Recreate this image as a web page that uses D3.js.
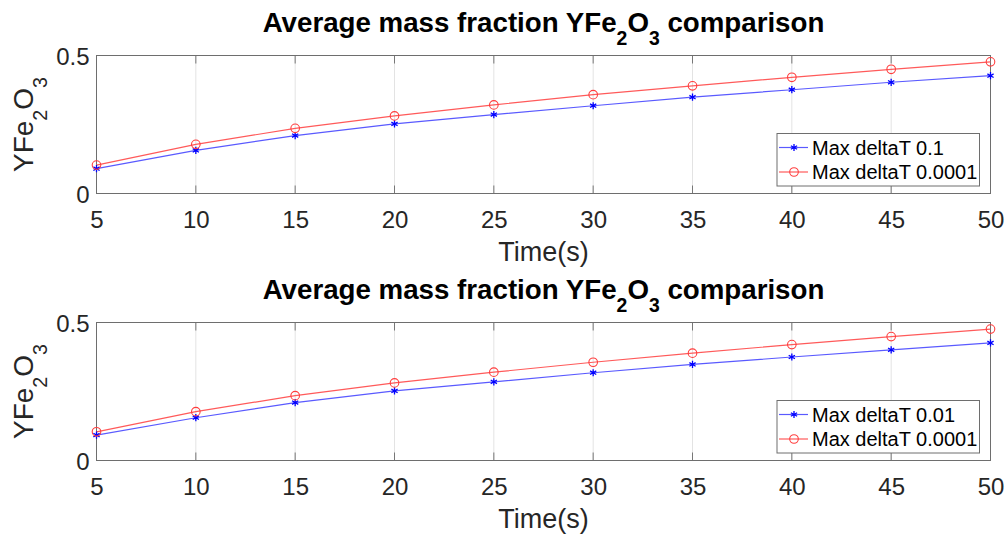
<!DOCTYPE html>
<html>
<head>
<meta charset="utf-8">
<script src="https://cdn.jsdelivr.net/npm/d3@7"></script>
<style>
  body { margin: 0; background: #fff; }
  svg { display: block; font-family: "Liberation Sans", Arial, sans-serif; }
</style>
</head>
<body>
<script>
// data
const times = [5, 10, 15, 20, 25, 30, 35, 40, 45, 50];
const yTicks = [0, 0.5];
const coarseTop = [0.090, 0.156, 0.210, 0.252, 0.286, 0.318, 0.349, 0.376, 0.403, 0.427];
const fineTop = [0.103, 0.178, 0.236, 0.281, 0.321, 0.358, 0.390, 0.421, 0.450, 0.477];
const coarseBottom = [0.092, 0.155, 0.210, 0.252, 0.285, 0.318, 0.348, 0.375, 0.401, 0.426];
const fineBottom = [0.104, 0.177, 0.235, 0.281, 0.320, 0.356, 0.389, 0.420, 0.449, 0.476];
const legendTop = ["Max deltaT 0.1", "Max deltaT 0.0001"];
const legendBottom = ["Max deltaT 0.01", "Max deltaT 0.0001"];

const width = 1008;
const height = 536;
const left = 96.5;
const right = 990.5;
const plotH = 138;

const svg = d3
  .select("body")
  .append("svg")
  .attr("width", width)
  .attr("height", height);

const x = d3.scaleLinear().domain([5, 50]).range([left, right]);

// writes "YFe2O3" style text, segments are [text, isSubscript]
const chem = (sel, segs, size) => {
  let level = 0;
  segs.forEach((s) => {
    const next = s[1] ? 1 : 0;
    const t = sel.append("tspan").text(s[0]);
    if (next !== level) t.attr("dy", (next - level) * size * 0.5);
    if (next) t.attr("font-size", size * 0.7);
    level = next;
  });
};

const drawPanel = (top, coarse, fine, labels) => {
  const bottom = top + plotH;
  const y = d3.scaleLinear().domain([0, 0.5]).range([bottom, top]);
  const g = svg.append("g");

  // vertical grid
  g.selectAll(".grid")
    .data(times)
    .enter()
    .append("line")
    .attr("x1", (d) => x(d))
    .attr("x2", (d) => x(d))
    .attr("y1", top)
    .attr("y2", bottom)
    .style("stroke", "#e3e3e3")
    .style("stroke-width", 1);

  // inward ticks top and bottom
  times.forEach((t) => {
    g.append("line")
      .attr("x1", x(t)).attr("x2", x(t))
      .attr("y1", bottom).attr("y2", bottom - 8)
      .style("stroke", "#777");
    g.append("line")
      .attr("x1", x(t)).attr("x2", x(t))
      .attr("y1", top).attr("y2", top + 8)
      .style("stroke", "#777");
  });

  // box
  g.append("rect")
    .attr("x", left)
    .attr("y", top)
    .attr("width", right - left)
    .attr("height", plotH)
    .style("fill", "none")
    .style("stroke", "#6e6e6e")
    .style("stroke-width", 1);

  // tick labels
  const xAxis = g
    .append("g")
    .attr("transform", `translate(0,${bottom})`)
    .call(d3.axisBottom(x).tickValues(times).tickSize(0).tickPadding(0));
  xAxis.select(".domain").remove();
  xAxis
    .selectAll("text")
    .attr("dy", 0)
    .attr("y", 34)
    .style("font-size", "24px")
    .style("fill", "#262626")
    .style("font-family", '"Liberation Sans", Arial, sans-serif');

  const yAxis = g
    .append("g")
    .attr("transform", `translate(${left},0)`)
    .call(d3.axisLeft(y).tickValues(yTicks).tickFormat(d3.format("")).tickSize(0).tickPadding(7));
  yAxis.select(".domain").remove();
  yAxis
    .selectAll("text")
    .attr("dy", "0.36em")
    .style("font-size", "24px")
    .style("fill", "#262626")
    .style("font-family", '"Liberation Sans", Arial, sans-serif');

  // axis labels
  g.append("text")
    .attr("x", (left + right) / 2)
    .attr("y", bottom + 67.5)
    .attr("text-anchor", "middle")
    .style("font-size", "27px")
    .style("fill", "#262626")
    .text("Time(s)");

  const yl = g
    .append("text")
    .attr("transform", `translate(33,${(top + bottom) / 2}) rotate(-90)`)
    .attr("text-anchor", "middle")
    .style("font-size", "28px")
    .style("fill", "#262626");
  chem(yl, [["YFe"], ["2", 1], ["O"], ["3", 1]], 28);

  // title
  const title = g
    .append("text")
    .attr("x", (left + right) / 2)
    .attr("y", top - 24)
    .attr("text-anchor", "middle")
    .style("font-size", "27.7px")
    .style("font-weight", "bold")
    .style("fill", "#000");
  chem(title, [["Average mass fraction YFe"], ["2", 1], ["O"], ["3", 1], [" comparison"]], 27.7);

  // series
  const line = d3
    .line()
    .x((d, i) => x(times[i]))
    .y((d) => y(d));

  g.append("path")
    .datum(coarse)
    .attr("d", line)
    .style("fill", "none")
    .style("stroke", "#5a5aff")
    .style("stroke-width", 1.2);
  g.append("path")
    .datum(fine)
    .attr("d", line)
    .style("fill", "none")
    .style("stroke", "#ff5a5a")
    .style("stroke-width", 1.2);

  const star = d3.symbol().type(d3.symbolAsterisk).size(36);
  g.selectAll(".star")
    .data(coarse)
    .enter()
    .append("path")
    .attr("d", star)
    .attr("transform", (d, i) => `translate(${x(times[i])},${y(d)})`)
    .style("fill", "none")
    .style("stroke", "#0000ff")
    .style("stroke-width", 1.3);
  g.selectAll(".circ")
    .data(fine)
    .enter()
    .append("circle")
    .attr("cx", (d, i) => x(times[i]))
    .attr("cy", (d) => y(d))
    .attr("r", 4.3)
    .style("fill", "none")
    .style("stroke", "#ff3c3c")
    .style("stroke-width", 1.1);

  // legend
  const lx = 777;
  const ly = bottom - 60;
  g.append("rect")
    .attr("x", lx)
    .attr("y", ly)
    .attr("width", 202.5)
    .attr("height", 52.5)
    .style("fill", "#fff")
    .style("stroke", "#6e6e6e")
    .style("stroke-width", 1);

  const rows = [
    { label: labels[0], color: "#5a5aff", mark: "star" },
    { label: labels[1], color: "#ff5a5a", mark: "circle" },
  ];
  rows.forEach((r, i) => {
    const cy = ly + 14 + i * 24.5;
    g.append("line")
      .attr("x1", lx + 2).attr("x2", lx + 31)
      .attr("y1", cy).attr("y2", cy)
      .style("stroke", r.color)
      .style("stroke-width", 1.2);
    if (r.mark === "star") {
      g.append("path")
        .attr("d", star)
        .attr("transform", `translate(${lx + 17},${cy})`)
        .style("fill", "none")
        .style("stroke", "#0000ff")
        .style("stroke-width", 1.3);
    } else {
      g.append("circle")
        .attr("cx", lx + 17)
        .attr("cy", cy)
        .attr("r", 4.3)
        .style("fill", "none")
        .style("stroke", "#ff3c3c")
        .style("stroke-width", 1.1);
    }
    g.append("text")
      .attr("x", lx + 35)
      .attr("y", cy + 7)
      .style("font-size", "20px")
      .style("fill", "#000")
      .text(r.label);
  });
};

drawPanel(55.5, coarseTop, fineTop, legendTop);
drawPanel(322.5, coarseBottom, fineBottom, legendBottom);
</script>
</body>
</html>
